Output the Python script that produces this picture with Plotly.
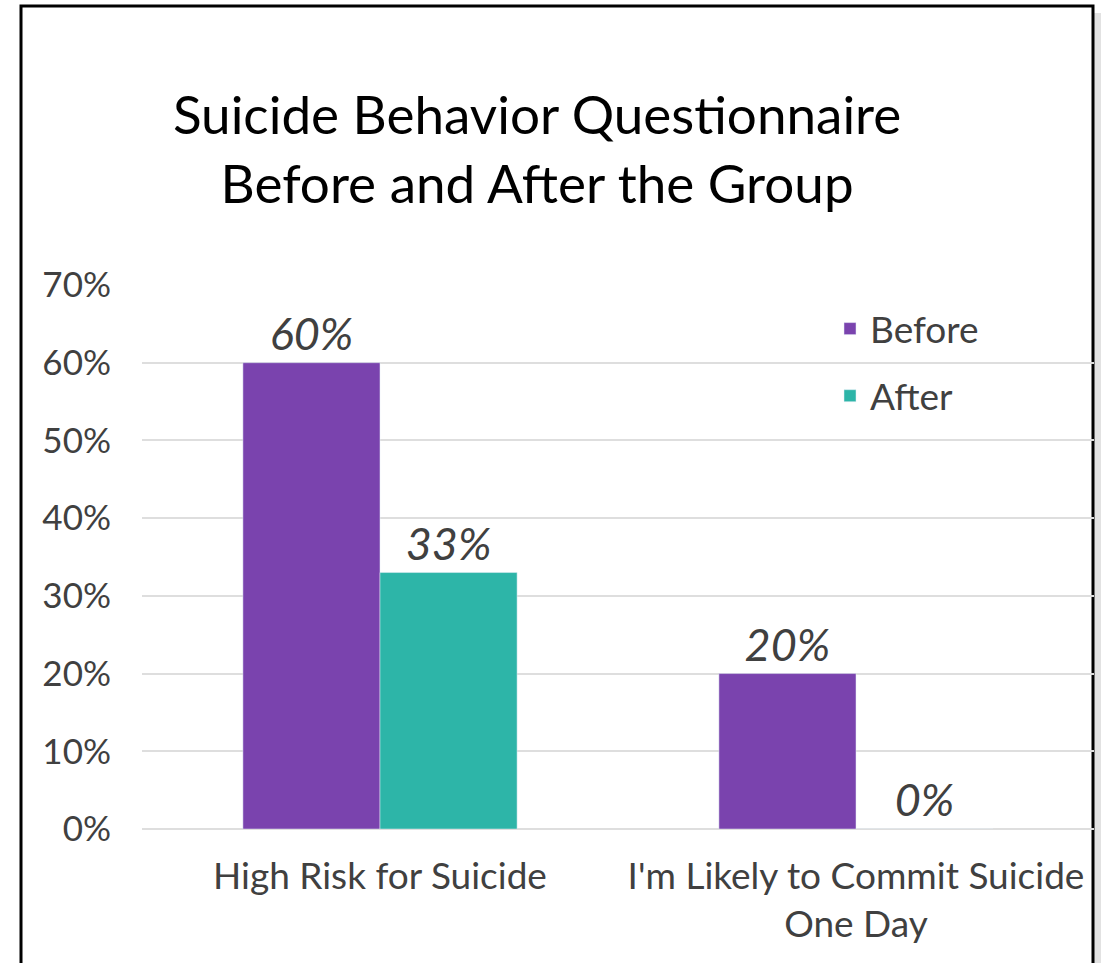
import plotly.graph_objects as go

categories = ["High Risk for Suicide", "I'm Likely to Commit Suicide<br>One Day"]
before_vals = [0.60, 0.20]
after_vals = [0.33, 0.00]
series_names = ["Before", "After"]
tick_vals = [0, 0.1, 0.2, 0.3, 0.4, 0.5, 0.6, 0.7]
tick_text = ["0%", "10%", "20%", "30%", "40%", "50%", "60%", "70%"]

W, H = 1112, 963
L, R, T, B = 142, 18, 285, 134
pw, ph = W - L - R, H - T - B

def px_x(p):
    return (p - L) / pw

def px_y(p):
    return (H - B - p) / ph

label_font = dict(family="Lato", size=45, color="#404040", style="italic")

fig = go.Figure()
fig.add_trace(go.Bar(
    name=series_names[0], x=categories, y=before_vals,
    marker=dict(color="#7a43ae"),
    text=[f"{v:.0%}" for v in before_vals], textposition="outside",
    textfont=label_font, cliponaxis=False, legendgroup="a",
))
fig.add_trace(go.Bar(
    name=series_names[1], x=categories, y=after_vals,
    marker=dict(color="#2db5a8"),
    text=[f"{v:.0%}" for v in after_vals], textposition="outside",
    textfont=label_font, cliponaxis=False, legendgroup="b",
))

fig.update_layout(
    width=W, height=H,
    margin=dict(l=L, r=R, t=T, b=B),
    paper_bgcolor="white", plot_bgcolor="rgba(0,0,0,0)",
    barmode="group", bargap=0.424, bargroupgap=0,
    font=dict(family="Lato", color="#404040"),
    title=dict(
        text="Suicide Behavior Questionnaire<br>Before and After the Group",
        x=0.483, xanchor="center", y=0.8606, yanchor="middle",
        font=dict(family="Lato", size=53, color="black"),
    ),
    uniformtext=dict(mode=False),
    legend=dict(
        x=0.7227, y=0.976, xanchor="left", yanchor="top",
        bgcolor="rgba(0,0,0,0)", font=dict(size=37, color="#404040"),
        tracegroupgap=16, traceorder="grouped",
    ),
    xaxis=dict(
        showline=False, ticks="", tickfont=dict(size=37, color="#404040"),
        ticklabelstandoff=22,
    ),
    yaxis=dict(
        range=[0, 0.7], tickvals=tick_vals, ticktext=tick_text,
        tickfont=dict(size=35, color="#404040"),
        showgrid=True, gridcolor="#dedede", gridwidth=2,
        zeroline=True, zerolinecolor="#dedede", zerolinewidth=2,
        showline=False, ticks="", ticklabelstandoff=30,
    ),
    shapes=[
        dict(type="rect", xref="paper", yref="paper", layer="below",
             x0=px_x(28), x1=px_x(1101), y0=px_y(1000), y1=px_y(13),
             fillcolor="#e2e2e2", line=dict(width=0)),
        dict(type="rect", xref="paper", yref="paper", layer="below",
             x0=px_x(21), x1=px_x(1093), y0=px_y(1000), y1=px_y(6),
             fillcolor="white", line=dict(color="black", width=3)),
    ],
)

fig.write_html("out.html")
